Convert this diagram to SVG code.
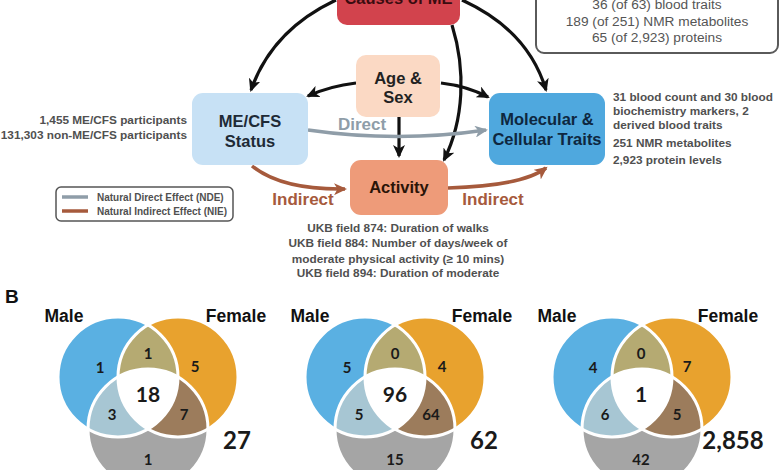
<svg xmlns="http://www.w3.org/2000/svg" width="780" height="470" viewBox="0 0 780 470">
<style>
.box{font-family:"Liberation Sans",Arial,sans-serif;font-weight:bold;font-size:16.5px;text-anchor:middle}
.ann{font-family:"Liberation Sans",Arial,sans-serif;font-weight:bold;font-size:11.8px;fill:#505050}
.reg{font-family:"Liberation Sans",Arial,sans-serif;font-size:13.7px;fill:#555;text-anchor:middle}
.lbl{font-family:"Liberation Sans",Arial,sans-serif;font-weight:bold;font-size:17px;text-anchor:middle}
.leg{font-family:"Liberation Sans",Arial,sans-serif;font-weight:bold;font-size:10px;fill:#505050}
.blk{fill:none;stroke:#111;stroke-width:3.2}
.gry{fill:none;stroke:#8F9DA8;stroke-width:3.5}
.brn{fill:none;stroke:#A65A3C;stroke-width:3.5}
.sex{font-family:"Liberation Sans",Arial,sans-serif;font-weight:bold;font-size:17.5px;fill:#111;text-anchor:middle}
.n{font-family:Lato,"Open Sans",sans-serif;font-weight:bold;font-size:15px;fill:#1a1a1a;text-anchor:middle}
.nc{font-family:Lato,"Open Sans",sans-serif;font-weight:bold;font-size:21px;fill:#1a1a1a;text-anchor:middle}
.tot{font-family:Lato,"Open Sans",sans-serif;font-weight:bold;font-size:24px;fill:#1a1a1a;text-anchor:middle}
.outl{fill:none;stroke:#fff;stroke-width:3}
</style>
<defs>
<marker id="ab" markerUnits="userSpaceOnUse" markerWidth="14" markerHeight="12" refX="11" refY="6" orient="auto">
<path d="M0,0 L13,6 L0,12 L3.5,6 Z" fill="#111"/>
</marker>
<marker id="ag" markerUnits="userSpaceOnUse" markerWidth="14" markerHeight="12" refX="11" refY="6" orient="auto">
<path d="M0,0 L13,6 L0,12 L3.5,6 Z" fill="#8F9DA8"/>
</marker>
<marker id="ar" markerUnits="userSpaceOnUse" markerWidth="14" markerHeight="12" refX="11" refY="6" orient="auto">
<path d="M0,0 L13,6 L0,12 L3.5,6 Z" fill="#A65A3C"/>
</marker>
<circle id="cm" cx="-30" cy="0" r="60"/>
<circle id="cf" cx="30" cy="0" r="60"/>
<circle id="cg" cx="0" cy="52" r="60"/>
<clipPath id="clm"><use href="#cm"/></clipPath>
<clipPath id="clf"><use href="#cf"/></clipPath>
<clipPath id="clg"><use href="#cg"/></clipPath>
</defs>
<rect width="780" height="470" fill="#fff"/>

<g id="connectors">
<path class="blk" d="M336,0 Q272,30 251,90" marker-end="url(#ab)"/>
<path class="blk" d="M462,0 Q528,30 546,90" marker-end="url(#ab)"/>
<path class="blk" d="M452,25 C466,70 464,120 444,160" marker-end="url(#ab)"/>
<path class="blk" d="M356,83 Q330,86 308,96" marker-end="url(#ab)"/>
<path class="blk" d="M441,83 Q467,86 488,97" marker-end="url(#ab)"/>
<path class="blk" d="M399,117 L399,156" marker-end="url(#ab)"/>
<path class="gry" d="M308,130 Q398,143 486,130" marker-end="url(#ag)"/>
<path class="brn" d="M252,166 Q282,190 345,189" marker-end="url(#ar)"/>
<path class="brn" d="M448,188 Q522,186 546,168" marker-end="url(#ar)"/>
</g>

<g id="causes">
<rect x="337" y="-30" width="123" height="55" rx="10" fill="#D2434D"/>
<text class="box" x="398.5" y="4" font-size="19" fill="#3a0c10">Causes of ME</text>
</g>

<g id="results-box">
<rect x="536" y="-20" width="242" height="73" rx="8" fill="#fff" stroke="#5a5a5a" stroke-width="2"/>
<text class="reg" x="657" y="9">36 (of 63) blood traits</text>
<text class="reg" x="657" y="26">189 (of 251) NMR metabolites</text>
<text class="reg" x="657" y="42">65 (of 2,923) proteins</text>
</g>

<g id="agesex">
<rect x="356" y="55" width="84" height="62" rx="10" fill="#FBD9C4"/>
<text class="box" x="398" y="84" fill="#222">Age &amp;</text>
<text class="box" x="398" y="103" fill="#222">Sex</text>
</g>

<g id="mecfs">
<rect x="192" y="93" width="116" height="72" rx="11" fill="#C7E1F5"/>
<text class="box" x="250" y="127" fill="#1e2a36">ME/CFS</text>
<text class="box" x="250" y="147" fill="#1e2a36">Status</text>
<text class="ann" x="187" y="124" text-anchor="end">1,455 ME/CFS participants</text>
<text class="ann" x="187" y="139" text-anchor="end">131,303 non-ME/CFS participants</text>
</g>

<g id="molecular">
<rect x="489" y="93" width="116" height="72" rx="11" fill="#4FA8DE"/>
<text class="box" x="547" y="125" fill="#0e2740">Molecular &amp;</text>
<text class="box" x="547" y="145" fill="#0e2740">Cellular Traits</text>
<text class="ann" x="613" y="101">31 blood count and 30 blood</text>
<text class="ann" x="613" y="115">biochemistry markers, 2</text>
<text class="ann" x="613" y="129">derived blood traits</text>
<text class="ann" x="613" y="147">251 NMR metabolites</text>
<text class="ann" x="613" y="164">2,923 protein levels</text>
</g>

<g id="activity">
<rect x="350" y="160" width="98" height="55" rx="11" fill="#EE9B79"/>
<text class="box" x="399" y="193" fill="#2a1408">Activity</text>
<text class="ann" x="398" y="232" text-anchor="middle">UKB field 874: Duration of walks</text>
<text class="ann" x="398" y="247" text-anchor="middle">UKB field 884: Number of days/week of</text>
<text class="ann" x="398" y="263" text-anchor="middle">moderate physical activity (≥ 10 mins)</text>
<text class="ann" x="398" y="277" text-anchor="middle">UKB field 894: Duration of moderate</text>
</g>

<g id="edge-labels">
<text class="lbl" x="362" y="130" fill="#8F9DA8">Direct</text>
<text class="lbl" x="303" y="205" fill="#A65A3C">Indirect</text>
<text class="lbl" x="493" y="205" fill="#A65A3C">Indirect</text>
</g>

<g id="legend">
<rect x="56" y="187" width="177" height="34" rx="5" fill="#fff" stroke="#555" stroke-width="1.5"/>
<line x1="62" y1="197" x2="88" y2="197" stroke="#8F9DA8" stroke-width="3.5"/>
<line x1="62" y1="211" x2="88" y2="211" stroke="#A65A3C" stroke-width="3.5"/>
<text class="leg" x="97" y="201">Natural Direct Effect (NDE)</text>
<text class="leg" x="97" y="215">Natural Indirect Effect (NIE)</text>
</g>

<text id="panel-b" x="5" y="303" font-family="Liberation Sans, Arial, sans-serif" font-weight="bold" font-size="19" fill="#111">B</text>

<g id="venn1" transform="translate(148,377)">
<use href="#cm" fill="#5AB0E2"/>
<use href="#cf" fill="#E8A22E"/>
<use href="#cg" fill="#A5A5A5"/>
<use href="#cf" fill="#B5AA72" clip-path="url(#clm)"/>
<use href="#cg" fill="#A7C6D3" clip-path="url(#clm)"/>
<use href="#cg" fill="#9C7C5C" clip-path="url(#clf)"/>
<g clip-path="url(#clm)"><use href="#cg" fill="#fff" clip-path="url(#clf)"/></g>
<use href="#cm" class="outl"/><use href="#cf" class="outl"/><use href="#cg" class="outl"/>
<text class="sex" x="-84" y="-55">Male</text>
<text class="sex" x="88" y="-55">Female</text>
<text class="n" x="-48" y="-4">1</text>
<text class="n" x="0" y="-18">1</text>
<text class="n" x="47" y="-5">5</text>
<text class="nc" x="0" y="25">18</text>
<text class="n" x="-36" y="43">3</text>
<text class="n" x="36" y="43">7</text>
<text class="n" x="0" y="88">1</text>
<text class="tot" x="89" y="72">27</text>
</g>

<g id="venn2" transform="translate(395,377)">
<use href="#cm" fill="#5AB0E2"/>
<use href="#cf" fill="#E8A22E"/>
<use href="#cg" fill="#A5A5A5"/>
<use href="#cf" fill="#B5AA72" clip-path="url(#clm)"/>
<use href="#cg" fill="#A7C6D3" clip-path="url(#clm)"/>
<use href="#cg" fill="#9C7C5C" clip-path="url(#clf)"/>
<g clip-path="url(#clm)"><use href="#cg" fill="#fff" clip-path="url(#clf)"/></g>
<use href="#cm" class="outl"/><use href="#cf" class="outl"/><use href="#cg" class="outl"/>
<text class="sex" x="-85" y="-55">Male</text>
<text class="sex" x="87" y="-55">Female</text>
<text class="n" x="-48" y="-4">5</text>
<text class="n" x="0" y="-18">0</text>
<text class="n" x="47" y="-5">4</text>
<text class="nc" x="0" y="25">96</text>
<text class="n" x="-36" y="43">5</text>
<text class="n" x="36" y="43">64</text>
<text class="n" x="0" y="88">15</text>
<text class="tot" x="89" y="72">62</text>
</g>

<g id="venn3" transform="translate(642,377)">
<use href="#cm" fill="#5AB0E2"/>
<use href="#cf" fill="#E8A22E"/>
<use href="#cg" fill="#A5A5A5"/>
<use href="#cf" fill="#B5AA72" clip-path="url(#clm)"/>
<use href="#cg" fill="#A7C6D3" clip-path="url(#clm)"/>
<use href="#cg" fill="#9C7C5C" clip-path="url(#clf)"/>
<g clip-path="url(#clm)"><use href="#cg" fill="#fff" clip-path="url(#clf)"/></g>
<use href="#cm" class="outl"/><use href="#cf" class="outl"/><use href="#cg" class="outl"/>
<text class="sex" x="-85" y="-55">Male</text>
<text class="sex" x="86" y="-55">Female</text>
<text class="n" x="-49" y="-4">4</text>
<text class="n" x="-1" y="-18">0</text>
<text class="n" x="45" y="-5">7</text>
<text class="nc" x="-1" y="25">1</text>
<text class="n" x="-37" y="43">6</text>
<text class="n" x="35" y="43">5</text>
<text class="n" x="-1" y="88">42</text>
<text class="tot" x="91" y="72">2,858</text>
</g>
</svg>
